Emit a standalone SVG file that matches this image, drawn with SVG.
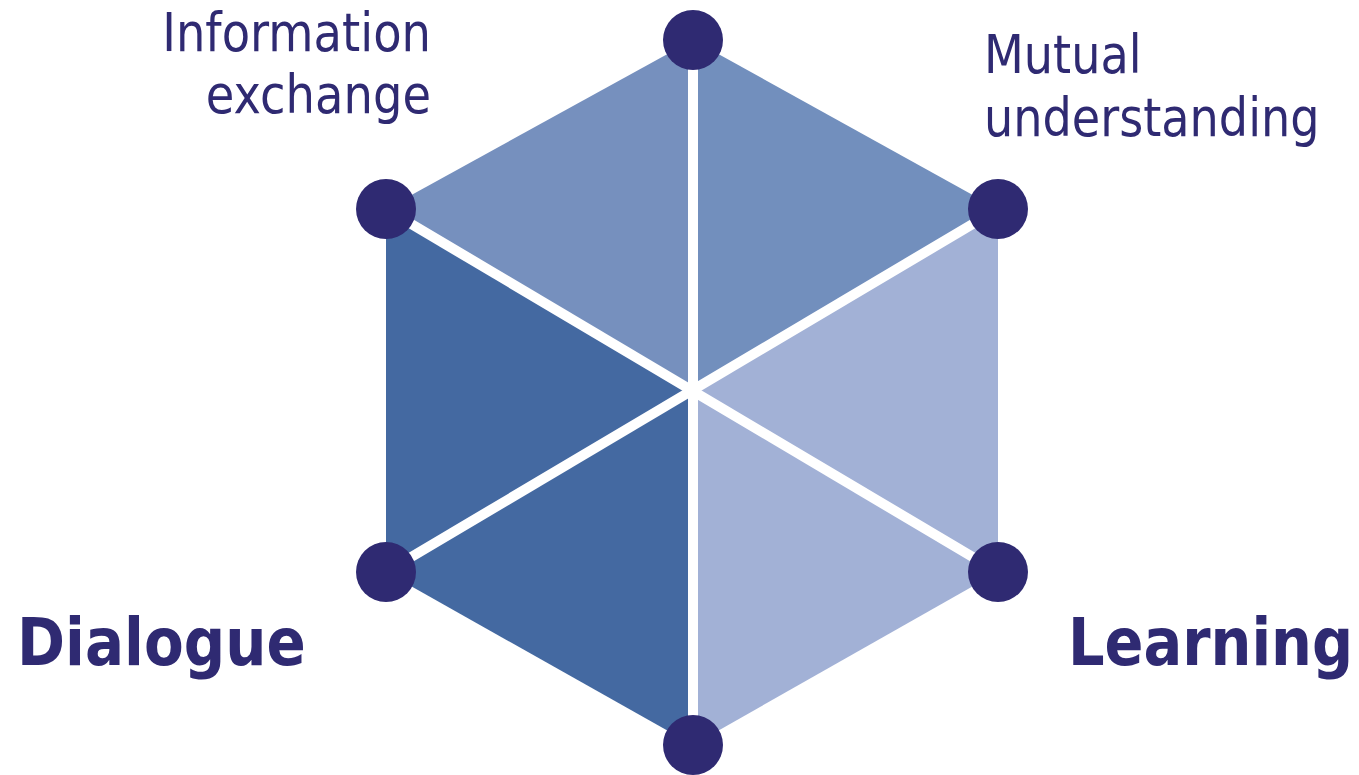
<svg xmlns="http://www.w3.org/2000/svg" width="1359" height="775" viewBox="0 0 1359 775">
  <style>
    .lbl { font-family: "DejaVu Sans", Verdana, sans-serif; fill: #2f2a72; }
    .reg { font-size: 54px; }
    .big { font-size: 66px; font-weight: bold; }
    .end { text-anchor: end; }
    .spoke { stroke: #ffffff; stroke-width: 10; stroke-linecap: butt; }
    .dot { fill: #2f2a72; }
  </style>
  <rect width="1359" height="775" fill="#ffffff"/>
  <g id="hexagon">
    <polygon points="692,391 386,209 693,40" fill="#7690be"/>
    <polygon points="692,391 693,40 998,209" fill="#728fbd"/>
    <polygon points="692,391 998,209 998,572" fill="#a2b1d6"/>
    <polygon points="692,391 998,572 693,745" fill="#a2b1d6"/>
    <polygon points="692,391 693,745 386,572" fill="#4469a1"/>
    <polygon points="692,391 386,572 386,209" fill="#4469a1"/>
  </g>
  <g id="connectors">
    <line class="spoke" x1="693" y1="40" x2="693" y2="745"/>
    <line class="spoke" x1="386" y1="209" x2="998" y2="572"/>
    <line class="spoke" x1="386" y1="572" x2="998" y2="209"/>
  </g>
  <g id="node-top"><circle class="dot" cx="693" cy="40" r="30"/></g>
  <g id="node-upper-right"><circle class="dot" cx="998" cy="209" r="30"/></g>
  <g id="node-lower-right"><circle class="dot" cx="998" cy="572" r="30"/></g>
  <g id="node-bottom"><circle class="dot" cx="693" cy="745" r="30"/></g>
  <g id="node-lower-left"><circle class="dot" cx="386" cy="572" r="30"/></g>
  <g id="node-upper-left"><circle class="dot" cx="386" cy="209" r="30"/></g>
  <g id="label-information-exchange" transform="translate(431,0) scale(0.86,1)">
    <text class="lbl reg end" x="0" y="51">Information</text>
    <text class="lbl reg end" x="0" y="113">exchange</text>
  </g>
  <g id="label-mutual-understanding" transform="translate(984,0) scale(0.855,1)">
    <text class="lbl reg" x="0" y="73">Mutual</text>
    <text class="lbl reg" x="0" y="136">understanding</text>
  </g>
  <g id="label-dialogue">
    <text class="lbl big" transform="translate(17,665) scale(0.878,1)" x="0" y="0">Dialogue</text>
  </g>
  <g id="label-learning">
    <text class="lbl big" transform="translate(1068,665) scale(0.87,1)" x="0" y="0">Learning</text>
  </g>
</svg>
